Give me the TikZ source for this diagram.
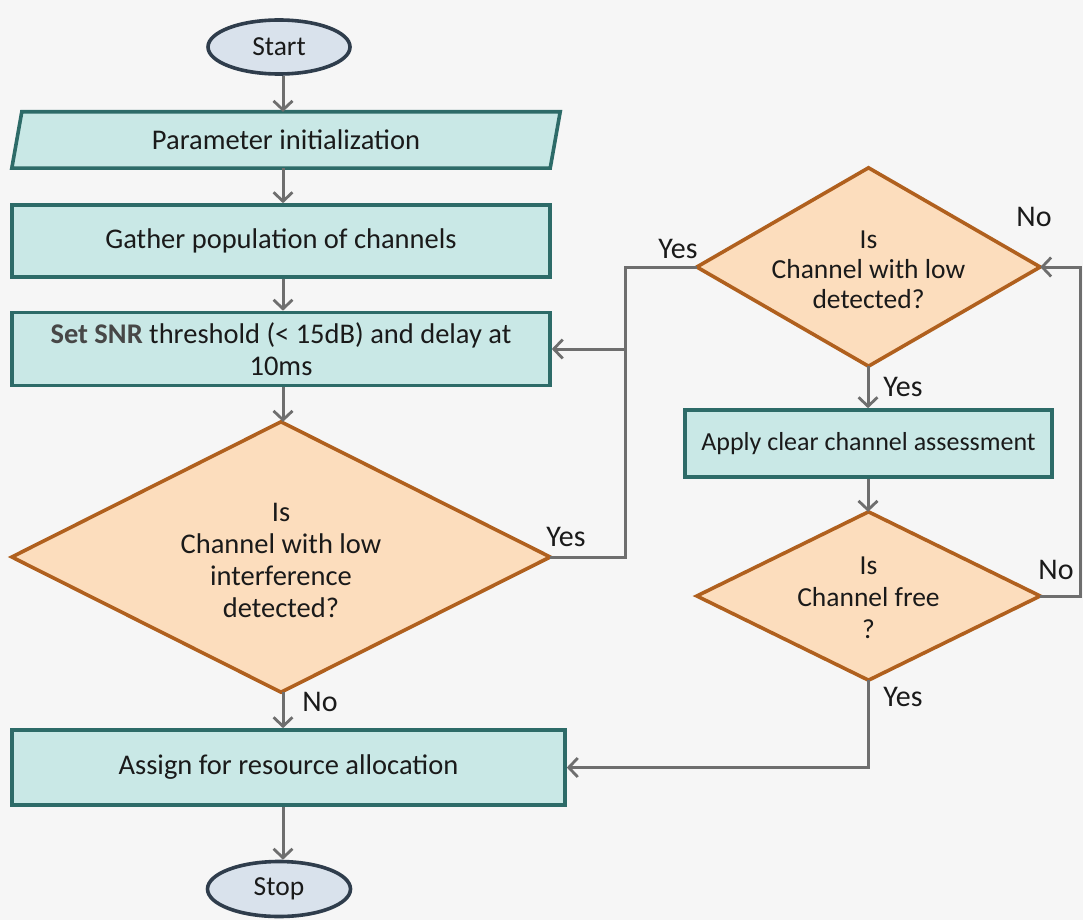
\documentclass[tikz,border=0pt]{standalone}
\usepackage{fontspec}
\setmainfont{Carlito}
\usetikzlibrary{arrows.meta,backgrounds,shapes.geometric}
\definecolor{bg}{HTML}{F6F6F6}
\definecolor{procfill}{HTML}{C9E8E6}
\definecolor{procline}{HTML}{2D6B68}
\definecolor{decfill}{HTML}{FCDDBD}
\definecolor{decline}{HTML}{B0601E}
\definecolor{termfill}{HTML}{D9E2EC}
\definecolor{termline}{HTML}{2F3D4C}
\definecolor{flowgray}{HTML}{6E6E6E}
\definecolor{ink}{HTML}{1A1A1A}

\begin{document}
\begin{tikzpicture}[x=1pt,y=-1pt,
  every node/.style={font=\fontsize{28.5}{34}\selectfont, text=ink, inner sep=0pt},
  terminal/.style={ellipse, draw=termline, fill=termfill, line width=3.6pt,
    minimum width=142pt, minimum height=54pt, font=\fontsize{27.5}{32}\selectfont},
  process/.style={rectangle, draw=procline, fill=procfill, line width=3.6pt, align=center},
  frame/.style={rectangle, align=center},
  paraborder/.style={draw=procline, fill=procfill, line width=3.6pt, line join=miter},
  decborder/.style={draw=decline, fill=decfill, line width=3.6pt, line join=miter},
  wire/.style={draw=flowgray, line width=3pt, line join=miter},
  conn/.style={wire, -{Straight Barb[length=9pt,width=19pt,line width=2.8pt]}},
  lbl/.style={font=\fontsize{30}{34}\selectfont}
]
% page
\useasboundingbox (0,0) rectangle (1083,920);

% column guides for the vertical connectors
\coordinate (colL) at (283,0);
\coordinate (colR) at (868,0);
\coordinate (jx) at (625,0);
\coordinate (rx) at (1080,0);

% left column
\node[terminal] (start) at (279,47) {Start};
\node[frame, minimum width=548pt, minimum height=56pt] (init) at (286,140) {Parameter initialization};
\node[process, minimum width=538pt, minimum height=72pt] (gather) at (281,241) {Gather population of channels};
\node[process, minimum width=538pt, minimum height=73pt, font=\fontsize{28.5}{32}\selectfont] (snr) at (281,349)
  {{\color{black!72}\bfseries Set SNR} threshold (< 15dB) and delay at\\10ms};
\node[frame, minimum width=538pt, minimum height=270pt] (d1) at (281,557) {};
\node[align=center, font=\fontsize{28.5}{32}\selectfont] (d1t) at (281,560)
  {Is\\Channel with low\\interference\\detected?};
\node[process, minimum width=553pt, minimum height=75pt] (assign) at (288.5,767.5) {Assign for resource allocation};
\node[terminal, minimum width=143pt, minimum height=55pt] (stop) at (279,889) {Stop};

% right column
\node[frame, minimum width=343pt, minimum height=198pt] (d2) at (868.5,267) {};
\node[align=center, font=\fontsize{27.5}{30}\selectfont] (d2t) at (868.5,270)
  {Is\\Channel with low\\detected?};
\node[process, minimum width=367pt, minimum height=67pt, font=\fontsize{26}{30}\selectfont] (cca) at (868.5,443.5) {Apply clear channel assessment};
\node[frame, minimum width=343pt, minimum height=168pt] (d3) at (868.5,596) {};
\node[align=center, font=\fontsize{27.5}{32}\selectfont] (d3t) at (868.5,598)
  {Is\\Channel free\\?};

% shapes drawn behind their texts
\begin{scope}[on background layer]
  \fill[bg] (0,0) rectangle (1083,920);
  \path[paraborder] ([xshift=10pt]init.north west) -- (init.north east)
    -- ([xshift=-10pt]init.south east) -- (init.south west) -- cycle;
  \path[decborder] (d1.north) -- (d1.east) -- (d1.south) -- (d1.west) -- cycle;
  \path[decborder] (d2.north) -- (d2.east) -- (d2.south) -- (d2.west) -- cycle;
  \path[decborder] (d3.north) -- (d3.east) -- (d3.south) -- (d3.west) -- cycle;
\end{scope}

% main flow
\draw[conn] (colL |- start.south) -- (colL |- init.north);
\draw[conn] (colL |- init.south) -- (colL |- gather.north);
\draw[conn] (colL |- gather.south) -- (colL |- snr.north);
\draw[conn] (colL |- snr.south) -- (colL |- d1.north);
\draw[conn] (colL |- d1.south) -- (colL |- assign.north);
\draw[conn] (colL |- assign.south) -- (colL |- stop.north);

% yes branches joining and feeding the threshold step
\draw[wire] (d1.east) -- (jx |- d1.east) -- (jx |- d2.west) -- (d2.west);
\draw[conn] (jx |- snr.east) -- (snr.east);

% channel checks
\draw[conn] (colR |- d2.south) -- (colR |- cca.north);
\draw[conn] (colR |- cca.south) -- (colR |- d3.north);
\draw[conn] (d3.east) -- (rx |- d3.east) -- (rx |- d2.east) -- (d2.east);
\draw[conn] (colR |- d3.south) -- (colR |- assign.east) -- (assign.east);

% branch labels
\node[lbl] (yes1) at (678,249) {Yes};
\node[lbl] (no1) at (1034,217) {No};
\node[lbl] (yes2) at (903,387) {Yes};
\node[lbl] (yes3) at (566,537) {Yes};
\node[lbl] (no2) at (1056,570) {No};
\node[lbl] (yes4) at (903,697) {Yes};
\node[lbl] (no3) at (320,702) {No};
\end{tikzpicture}
\end{document}
